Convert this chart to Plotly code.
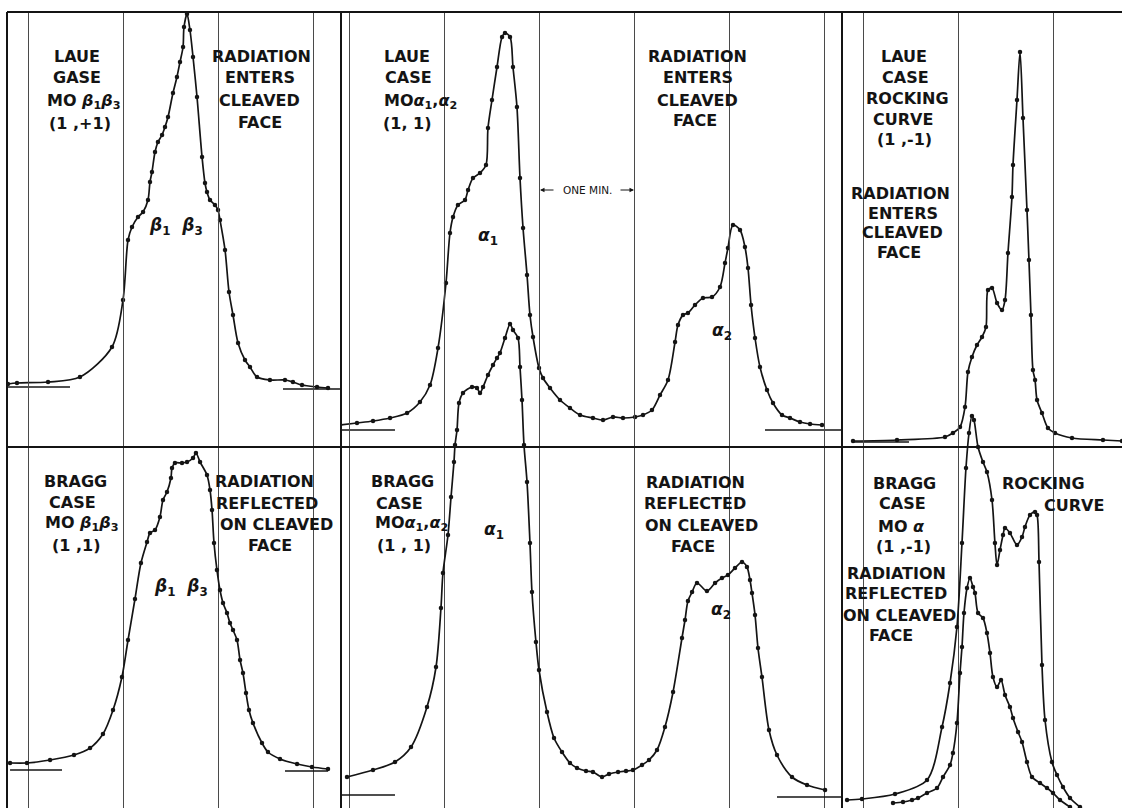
import plotly.graph_objects as go

# Angles are in minutes of arc, measured from a reference grid line of each
# column; deflections are galvanometer readings above the lower edge of the
# panel row (arbitrary units).

# ---- Laue case, Mo beta1 beta3, (1,+1) ----
laue_beta_angle = [-1.211, -1.116, -0.789, -0.453, -0.116, 0.000, 0.053, 0.095, 0.158, 0.211,
                   0.263, 0.284, 0.305, 0.337, 0.368, 0.411, 0.442, 0.474, 0.526, 0.568,
                   0.600, 0.632, 0.642, 0.674, 0.705, 0.737, 0.779, 0.832, 0.863, 0.884,
                   0.916, 0.968, 1.000, 1.021, 1.074, 1.116, 1.158, 1.211, 1.284, 1.337,
                   1.411, 1.547, 1.705, 1.789, 1.884, 2.042, 2.158]
laue_beta_defl = [63, 64, 65, 70, 100, 147, 207, 220, 230, 235,
                  247, 265, 275, 295, 305, 312, 320, 330, 354, 370,
                  385, 400, 420, 433, 417, 390, 350, 290, 264, 255,
                  247, 242, 237, 227, 197, 155, 132, 104, 87, 80,
                  70, 67, 67, 65, 62, 60, 59]

# ---- Laue case, Mo alpha1 alpha2, (1,1) ----
laue_alpha_angle = [-2.095, -1.916, -1.747, -1.568, -1.389, -1.253, -1.147, -1.063, -0.979, -0.937,
                    -0.905, -0.853, -0.779, -0.747, -0.695, -0.621, -0.558, -0.537, -0.495, -0.442,
                    -0.389, -0.358, -0.305, -0.274, -0.232, -0.200, -0.168, -0.126, -0.095, -0.063,
                    0.000, 0.042, 0.116, 0.221, 0.326, 0.432, 0.568, 0.674, 0.779, 0.884,
                    1.011, 1.095, 1.189, 1.274, 1.358, 1.432, 1.463, 1.516, 1.568, 1.642,
                    1.726, 1.821, 1.905, 1.958, 1.989, 2.042, 2.116, 2.168, 2.200, 2.232,
                    2.274, 2.326, 2.400, 2.463, 2.558, 2.642, 2.747, 2.853, 2.979]
laue_alpha_defl = [22, 24, 26, 29, 34, 45, 62, 99, 164, 214,
                   230, 242, 247, 257, 269, 274, 282, 319, 347, 380,
                   410, 414, 410, 380, 340, 269, 219, 172, 132, 110,
                   79, 69, 59, 47, 39, 32, 29, 27, 30, 29,
                   30, 32, 37, 52, 67, 105, 122, 132, 134, 142,
                   149, 150, 160, 184, 199, 222, 217, 200, 179, 142,
                   109, 80, 57, 44, 32, 29, 25, 23, 22]

# ---- Laue case rocking curve, (1,-1) ----
laue_rock_angle = [-1.105, -0.642, -0.137, -0.053, 0.021, 0.074, 0.105, 0.147, 0.200, 0.253,
                   0.295, 0.316, 0.358, 0.411, 0.463, 0.495, 0.526, 0.568, 0.579, 0.621,
                   0.653, 0.684, 0.726, 0.747, 0.768, 0.789, 0.811, 0.832, 0.884, 0.947,
                   1.021, 1.200, 1.526, 1.726]
laue_rock_defl = [6, 7, 10, 14, 20, 40, 75, 90, 102, 110,
                  120, 157, 159, 144, 137, 147, 194, 250, 282, 347,
                  395, 329, 237, 187, 132, 77, 67, 47, 34, 19,
                  14, 9, 7, 6]

# ---- Bragg case, Mo beta1 beta3, (1,1) ----
bragg_beta_angle = [-1.189, -1.011, -0.768, -0.516, -0.347, -0.211, -0.105, -0.011, 0.053, 0.126,
                    0.189, 0.253, 0.284, 0.337, 0.389, 0.421, 0.463, 0.505, 0.516, 0.547,
                    0.621, 0.674, 0.737, 0.768, 0.811, 0.884, 0.916, 0.937, 0.958, 0.989,
                    1.021, 1.053, 1.095, 1.126, 1.158, 1.200, 1.232, 1.263, 1.295, 1.326,
                    1.368, 1.463, 1.526, 1.653, 1.832, 1.989, 2.158]
bragg_beta_defl = [45, 45, 48, 53, 60, 74, 98, 131, 168, 209,
                   245, 266, 275, 278, 291, 308, 316, 330, 340, 345,
                   345, 346, 350, 355, 346, 333, 318, 298, 265, 238,
                   218, 205, 195, 185, 178, 168, 148, 135, 115, 98,
                   85, 65, 56, 49, 44, 41, 39]

# ---- Bragg case, Mo alpha1 alpha2, (1,1) ----
bragg_alpha_angle = [-2.021, -1.747, -1.516, -1.347, -1.179, -1.084, -1.032, -1.011, -0.958, -0.926,
                     -0.895, -0.884, -0.863, -0.842, -0.800, -0.705, -0.653, -0.621, -0.589, -0.537,
                     -0.484, -0.442, -0.411, -0.358, -0.305, -0.274, -0.221, -0.200, -0.179, -0.158,
                     -0.126, -0.095, -0.074, -0.032, 0.000, 0.084, 0.158, 0.242, 0.326, 0.400,
                     0.495, 0.568, 0.663, 0.737, 0.832, 0.916, 0.989, 1.084, 1.158, 1.242,
                     1.326, 1.411, 1.505, 1.537, 1.568, 1.611, 1.663, 1.768, 1.853, 1.926,
                     1.989, 2.063, 2.137, 2.189, 2.221, 2.242, 2.274, 2.305, 2.347, 2.421,
                     2.505, 2.663, 2.821, 3.011]
bragg_alpha_defl = [31, 38, 46, 61, 101, 141, 200, 235, 273, 311,
                    346, 363, 378, 405, 415, 421, 420, 415, 421, 433,
                    443, 450, 455, 470, 484, 478, 470, 441, 408, 363,
                    326, 265, 216, 166, 138, 96, 70, 56, 45, 40,
                    37, 36, 31, 34, 36, 37, 38, 43, 48, 58,
                    81, 116, 170, 188, 207, 216, 225, 217, 225, 230,
                    233, 240, 246, 241, 228, 215, 193, 160, 131, 78,
                    53, 31, 23, 18]

# ---- Bragg case, Mo alpha, (1,-1): rocking curve ----
bragg_rock_angle = [-1.168, -1.011, -0.663, -0.326, -0.168, -0.084, -0.011, 0.042, 0.084, 0.116,
                    0.147, 0.168, 0.211, 0.263, 0.305, 0.358, 0.389, 0.411, 0.442, 0.474,
                    0.495, 0.547, 0.621, 0.674, 0.705, 0.758, 0.811, 0.832, 0.853, 0.884,
                    0.916, 0.989, 1.042, 1.105, 1.179, 1.284]
bragg_rock_defl = [8, 9, 14, 28, 81, 125, 181, 265, 340, 375,
                   392, 388, 361, 346, 336, 308, 265, 243, 258, 273,
                   280, 275, 263, 271, 281, 293, 296, 293, 246, 143,
                   88, 46, 33, 21, 10, 1]

# ---- Bragg case, Mo alpha, (1,-1): radiation reflected on cleaved face ----
bragg_face_angle = [-0.684, -0.579, -0.484, -0.421, -0.326, -0.221, -0.158, -0.084, -0.053, -0.011,
                    0.021, 0.042, 0.063, 0.095, 0.126, 0.158, 0.179, 0.211, 0.263, 0.305,
                    0.337, 0.368, 0.411, 0.453, 0.495, 0.547, 0.579, 0.632, 0.674, 0.726,
                    0.779, 0.863, 0.937, 1.000, 1.074, 1.179]
bragg_face_defl = [5, 6, 8, 10, 15, 20, 31, 43, 55, 85,
                   135, 161, 195, 220, 230, 221, 215, 195, 190, 175,
                   155, 131, 121, 128, 113, 101, 90, 76, 66, 46,
                   31, 25, 20, 15, 8, 1]

# Background levels: (panel, start angle, end angle, deflection)
background_levels = [
    ("A", -1.211, -0.558, 60), ("A", 1.684, 2.284, 58),
    ("B", -2.095, -1.516, 17), ("B", 2.379, 3.179, 17),
    ("C", -1.105, -0.516, 5),
    ("D", -1.189, -0.642, 38), ("D", 1.705, 2.158, 37),
    ("E", -2.095, -1.516, 13), ("E", 2.505, 3.179, 11),
]

# ---------------------------------------------------------------- layout
W, H = 1122, 808
MINUTE_PX = 95.0
FRAME_TOP, FRAME_LEFT, ROW_SPLIT = 12, 7, 447
COLUMNS = [(7, 341, 123), (341, 842, 539), (842, 1122, 958)]  # left, right, zero line
ROW_ZERO = {"top": ROW_SPLIT, "bottom": H}
INK = "#141414"
GRID = "#4a4a4a"

# panel -> (column index, row)
PANELS = {"A": (0, "top"), "B": (1, "top"), "C": (2, "top"),
          "D": (0, "bottom"), "E": (1, "bottom"), "F": (2, "bottom")}

def axis_names(panel):
    col, row = PANELS[panel]
    xa = "x" if col == 0 else "x%d" % (col + 1)
    ya = "y" if row == "top" else "y2"
    return xa, ya

curves = [
    ("A", laue_beta_angle, laue_beta_defl),
    ("B", laue_alpha_angle, laue_alpha_defl),
    ("C", laue_rock_angle, laue_rock_defl),
    ("D", bragg_beta_angle, bragg_beta_defl),
    ("E", bragg_alpha_angle, bragg_alpha_defl),
    ("F", bragg_rock_angle, bragg_rock_defl),
    ("F", bragg_face_angle, bragg_face_defl),
]

fig = go.Figure()
for panel, ang, defl in curves:
    xa, ya = axis_names(panel)
    fig.add_trace(go.Scatter(
        x=ang, y=defl, xaxis=xa, yaxis=ya, mode="lines+markers",
        line=dict(color=INK, width=1.7, shape="spline", smoothing=0.85),
        marker=dict(color=INK, size=4.5),
        hoverinfo="skip", showlegend=False))

for panel, a0, a1, lvl in background_levels:
    xa, ya = axis_names(panel)
    fig.add_trace(go.Scatter(
        x=[a0, a1], y=[lvl, lvl], xaxis=xa, yaxis=ya, mode="lines",
        line=dict(color=INK, width=1.3), hoverinfo="skip", showlegend=False))

ydom = [0, 1 - FRAME_TOP / H]
layout_axes = {}
for i, (left, right, zero) in enumerate(COLUMNS):
    name = "xaxis" if i == 0 else "xaxis%d" % (i + 1)
    layout_axes[name] = dict(
        domain=[left / W, right / W],
        range=[(left - zero) / MINUTE_PX, (right - zero) / MINUTE_PX],
        anchor="y", showgrid=True, gridcolor=GRID, gridwidth=1,
        dtick=1, tick0=0, showticklabels=False, zeroline=False,
        showline=False, ticks="", fixedrange=True)
layout_axes["yaxis"] = dict(domain=ydom, range=[ROW_ZERO["top"] - H, ROW_ZERO["top"] - FRAME_TOP],
                            anchor="x", showgrid=False, zeroline=False,
                            showticklabels=False, ticks="", fixedrange=True)
layout_axes["yaxis2"] = dict(domain=ydom, range=[ROW_ZERO["bottom"] - H, ROW_ZERO["bottom"] - FRAME_TOP],
                             anchor="x", showgrid=False, zeroline=False,
                             showticklabels=False, ticks="", fixedrange=True)

def px(xp):
    return xp / W

def py(yp):
    return 1 - yp / H

# Frame of the six panels
frame = [
    (FRAME_LEFT, FRAME_TOP, W, FRAME_TOP),
    (FRAME_LEFT, FRAME_TOP, FRAME_LEFT, H),
    (COLUMNS[0][1], FRAME_TOP, COLUMNS[0][1], H),
    (COLUMNS[1][1], FRAME_TOP, COLUMNS[1][1], H),
    (FRAME_LEFT, ROW_SPLIT, W, ROW_SPLIT),
]
shapes = [dict(type="line", xref="paper", yref="paper",
               x0=px(a), y0=py(b), x1=px(c), y1=py(d),
               line=dict(color=INK, width=2)) for a, b, c, d in frame]

b13 = "<i>β</i><sub>1</sub><i>β</i><sub>3</sub>"
a12 = "<i>α</i><sub>1</sub>,<i>α</i><sub>2</sub>"

# Lettering: (text, centre x, centre y)
lettering = [
    ("LAUE", 77, 57), ("GASE", 77, 78), ("MO " + b13, 84, 101), ("(1 ,+1)", 80, 123),
    ("RADIATION", 261, 57), ("ENTERS", 260, 78), ("CLEAVED", 259, 100), ("FACE", 260, 122),
    ("LAUE", 407, 57), ("CASE", 408, 78), ("MO" + a12, 420, 101), ("(1, 1)", 407, 123),
    ("RADIATION", 697, 57), ("ENTERS", 698, 78), ("CLEAVED", 697, 100), ("FACE", 695, 120),
    ("LAUE", 904, 57), ("CASE", 905, 78), ("ROCKING", 907, 98), ("CURVE", 903, 119), ("(1 ,-1)", 904, 140),
    ("RADIATION", 900, 193), ("ENTERS", 903, 213), ("CLEAVED", 902, 233), ("FACE", 899, 253),
    ("BRAGG", 75, 481), ("CASE", 72, 502), ("MO " + b13, 82, 523), ("(1 ,1)", 76, 545),
    ("RADIATION", 264, 481), ("REFLECTED", 267, 503), ("ON CLEAVED", 276, 524), ("FACE", 270, 545),
    ("BRAGG", 402, 481), ("CASE", 399, 503), ("MO" + a12, 411, 523), ("(1 , 1)", 404, 545),
    ("RADIATION", 695, 482), ("REFLECTED", 695, 503), ("ON CLEAVED", 701, 525), ("FACE", 693, 546),
    ("BRAGG", 904, 483), ("CASE", 902, 503), ("MO <i>α</i>", 901, 526), ("(1 ,-1)", 903, 546),
    ("RADIATION", 896, 573), ("REFLECTED", 896, 593), ("ON CLEAVED", 899, 615), ("FACE", 891, 635),
    ("ROCKING", 1043, 483), ("CURVE", 1074, 505),
]

peak_names = [
    ("<i>β</i><sub>1</sub>  <i>β</i><sub>3</sub>", 176, 226),
    ("<i>α</i><sub>1</sub>", 488, 237),
    ("<i>α</i><sub>2</sub>", 722, 331),
    ("<i>β</i><sub>1</sub>  <i>β</i><sub>3</sub>", 181, 587),
    ("<i>α</i><sub>1</sub>", 494, 530),
    ("<i>α</i><sub>2</sub>", 721, 610),
]

annotations = []
for text, cx, cy in lettering:
    annotations.append(dict(text=text, x=px(cx), y=py(cy), xref="paper", yref="paper",
                            showarrow=False, xanchor="center", yanchor="middle",
                            font=dict(family="DejaVu Sans", size=16, color=INK, weight="bold")))
for text, cx, cy in peak_names:
    annotations.append(dict(text=text, x=px(cx), y=py(cy), xref="paper", yref="paper",
                            showarrow=False, xanchor="center", yanchor="middle",
                            font=dict(family="DejaVu Sans", size=17, color=INK, weight="bold")))

# one-minute scale marker between two grid lines
annotations.append(dict(text="ONE MIN.", x=px(587), y=py(190), xref="paper", yref="paper",
                        showarrow=False, xanchor="center", yanchor="middle",
                        font=dict(family="DejaVu Sans", size=10.5, color=INK)))
for head, dx in ((540, 15), (634, -15)):
    annotations.append(dict(text="", x=px(head), y=py(190), xref="paper", yref="paper",
                            showarrow=True, ax=dx, ay=0, arrowhead=2, arrowsize=0.9,
                            arrowwidth=1, arrowcolor=INK))

fig.update_layout(
    width=W, height=H, margin=dict(l=0, r=0, t=0, b=0),
    paper_bgcolor="white", plot_bgcolor="rgba(0,0,0,0)",
    shapes=shapes, annotations=annotations, showlegend=False,
    **layout_axes)

fig.write_html("out.html")
